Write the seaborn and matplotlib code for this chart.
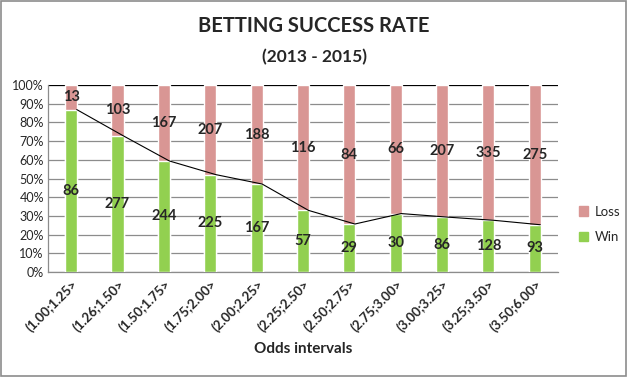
import numpy as np
import pandas as pd
import matplotlib.pyplot as plt
import seaborn as sns
from matplotlib.patches import Patch, Rectangle

# 数据
intervals = ['(1.00;1.25>', '(1.26;1.50>', '(1.50;1.75>', '(1.75;2.00>', '(2.00;2.25>',
             '(2.25;2.50>', '(2.50;2.75>', '(2.75;3.00>', '(3.00;3.25>', '(3.25;3.50>',
             '(3.50;6.00>']
wins = [86, 277, 244, 225, 167, 57, 29, 30, 86, 128, 93]
losses = [13, 103, 167, 207, 188, 116, 84, 66, 207, 335, 275]

df = pd.DataFrame({'interval': intervals, 'win': wins, 'loss': losses})
df['total'] = df['win'] + df['loss']
df['win_pct'] = df['win'] / df['total'] * 100
df['full'] = 100.0

sns.set_theme(style="white")
plt.rcParams['font.family'] = ['Lato', 'DejaVu Sans']

green = '#92D050'
pink = '#D99694'

fig = plt.figure(figsize=(6.28, 3.77), dpi=100)
ax = fig.add_axes([0.0764, 0.2785, 0.812, 0.496])

for y in range(0, 101, 10):
    ax.axhline(y, color='#8c8c8c' if y < 100 else 'black', lw=0.9, zorder=0)

sns.barplot(data=df, x='interval', y='full', color=pink, width=0.26,
            saturation=1, ax=ax, zorder=2)
sns.barplot(data=df, x='interval', y='win_pct', color=green, width=0.26,
            saturation=1, ax=ax, zorder=3)

# 胜率折线（连接每根柱子的右上角）
x = np.arange(len(df))
ax.plot(x + 0.12, df['win_pct'], color='black', lw=0.8, zorder=4)

# 数据标签
for i, row in df.iterrows():
    ax.text(i, row['win_pct'] / 2, str(row['win']), ha='center', va='center',
            fontsize=10.5, fontweight='bold', zorder=5)
    ax.text(i, (row['win_pct'] + 100) / 2, str(row['loss']), ha='center', va='center',
            fontsize=10.5, fontweight='bold', zorder=5)

ax.set_ylim(0, 100)
ax.set_xlim(-0.5, len(df) - 0.5)
ax.set_yticks(range(0, 101, 10))
ax.set_yticklabels([f'{v}%' for v in range(0, 101, 10)], fontsize=9)
ax.set_xticks(x)
ax.set_xticklabels(df['interval'], rotation=45, ha='right', va='top',
                   rotation_mode='anchor', fontsize=9.5, fontweight='bold')
ax.tick_params(axis='x', pad=4, length=0)
ax.tick_params(axis='y', pad=3, length=0)
ax.set_xlabel('Odds intervals', fontsize=11, fontweight='bold', labelpad=6)
ax.set_ylabel('')
for side in ['top', 'right']:
    ax.spines[side].set_visible(False)
for side in ['left', 'bottom']:
    ax.spines[side].set_color('#8c8c8c')
    ax.spines[side].set_linewidth(0.9)

handles = [Patch(color=pink, label='Loss'), Patch(color=green, label='Win')]
fig.legend(handles=handles, loc='center left', bbox_to_anchor=(0.922, 0.405),
           frameon=False, fontsize=9.5, handlelength=0.7, handleheight=0.7,
           handletextpad=0.5, labelspacing=1.0, borderpad=0, borderaxespad=0)

fig.text(0.5, 0.932, 'BETTING SUCCESS RATE', ha='center', va='center',
         fontsize=14.5, fontweight='bold')
fig.text(0.5, 0.848, '(2013 - 2015)', ha='center', va='center',
         fontsize=12.5, fontweight='bold')

fig.patches.append(Rectangle((0.002, 0.003), 0.995, 0.994, transform=fig.transFigure,
                             fill=False, edgecolor='#8c8c8c', lw=1.2))

fig.savefig('out.png', dpi=100)
